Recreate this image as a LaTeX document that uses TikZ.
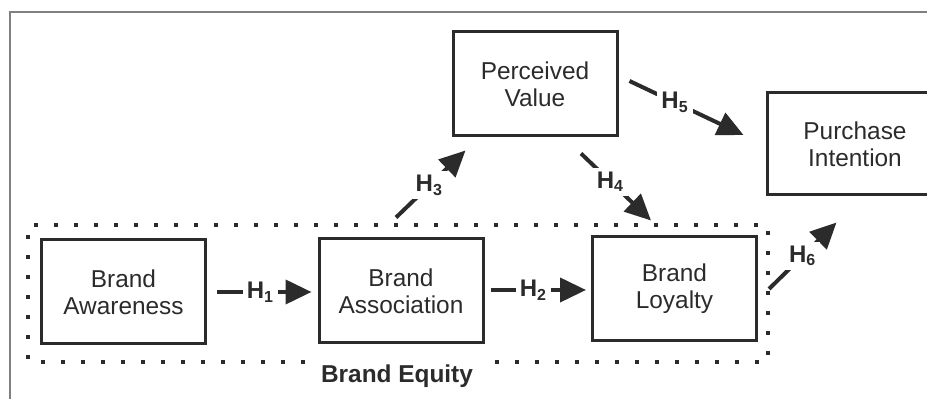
\documentclass[tikz,border=0pt]{standalone}
\usepackage{fontspec}
\setmainfont{Liberation Sans}
\usepackage{tikz}
\usetikzlibrary{arrows.meta,positioning,calc}
\definecolor{ink}{RGB}{43,43,43}
\newcommand{\Hy}[1]{\textbf{H}\textsubscript{\textbf{#1}}}
\tikzstyle{box}=[rectangle, draw=ink, line width=1.5pt, minimum width=82pt, minimum height=52pt, align=center, text=ink, font=\fontsize{12.2}{13.5}\selectfont]
\tikzstyle{hyp}=[draw=ink, line width=2pt, -{Triangle[length=13pt,width=12pt]}]
\tikzstyle{lab}=[fill=white, inner sep=2pt, text=ink, font=\fontsize{12}{13.5}\selectfont]
\tikzstyle{dots}=[draw=ink, line width=2.2pt, dash pattern=on 2.2pt off 7.8pt]

\begin{document}
\begin{tikzpicture}[x=0.5pt, y=-0.5pt]
				\clip(0,0)rectangle(927,399);
				\draw[gray, line width=0.6pt](10,399)--(10,12)--(927,12);
				\node[box](BA)at(123.5,292){Brand\\Awareness};
				\node[box](BS)at(401,291){Brand\\Association};
				\node[box](BL)at(674.5,289){Brand\\Loyalty};
				\node[box](PV)at(535,84){Perceived\\Value};
				\node[box, minimum width=88pt, minimum height=51pt](PI)at(855,144){Purchase\\Intention};
				\node[lab, font=\fontsize{12.2}{13.5}\selectfont\bfseries](BE)at(397,376){Brand Equity};
				\draw[dots](305,362)--(28,362)--(28,225)--(768,225)--(768,362)--(485,362);
				\draw[hyp]([shift={(10,0)}]BA.east)--([shift={(-6,1)}]BS.west)node[pos=0.46, lab]{\Hy{1}};
				\draw[hyp]([shift={(6,-1)}]BS.east)--([shift={(-5,1)}]BL.west)node[pos=0.45, lab]{\Hy{2}};
				\draw[hyp]([shift={(-5,-20)}]BS.north)--([shift={(14,13)}]PV.south west)node[pos=0.48, lab]{\Hy{3}};
				\draw[hyp]([shift={(46,16)}]PV.south)--([shift={(-23.5,-15)}]BL.north)node[pos=0.42, lab]{\Hy{4}};
				\draw[hyp]([shift={(11,-3)}]PV.east)--([shift={(-22,-9)}]PI.west)node[pos=0.4, lab]{\Hy{5}};
				\draw[hyp]([shift={(11,0)}]BL.east)--([shift={(71,26)}]PI.south west)node[pos=0.5, lab]{\Hy{6}};
			\end{tikzpicture}
\end{document}
